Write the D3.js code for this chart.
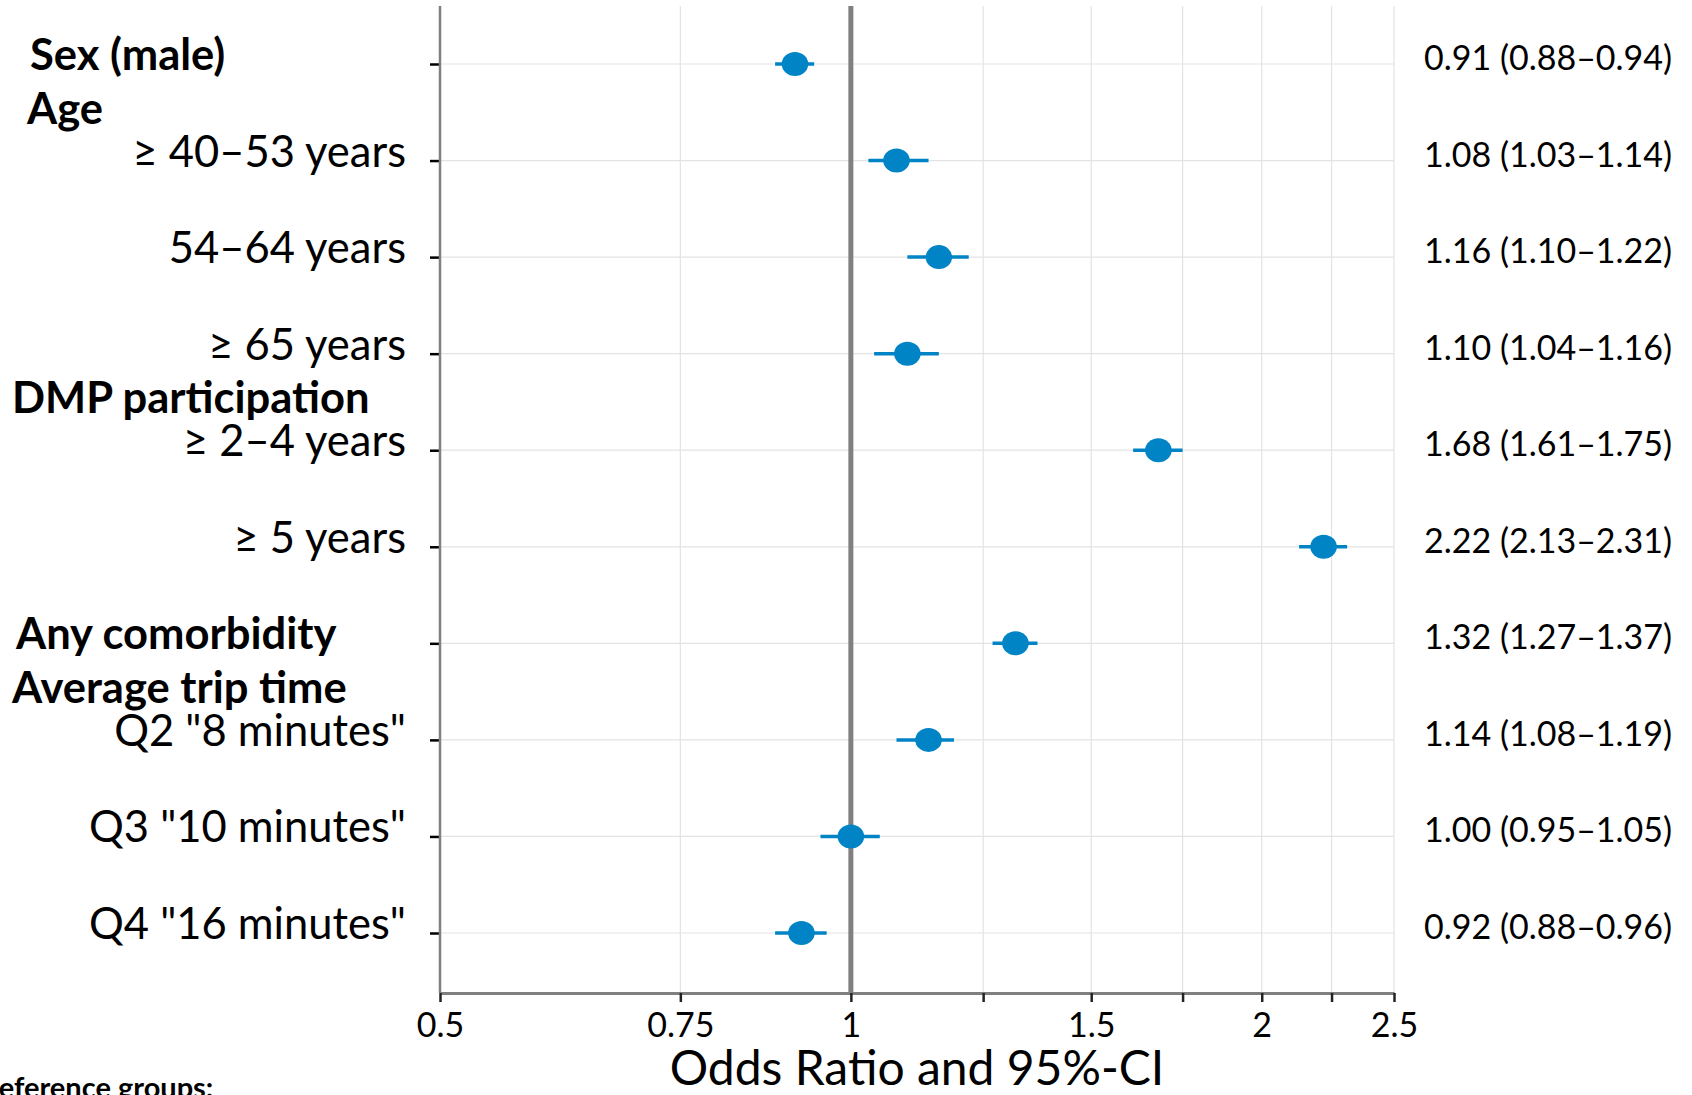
<!DOCTYPE html>
<html>
<head>
<meta charset="utf-8">
<script src="https://cdn.jsdelivr.net/npm/d3@7"></script>
<style>
  body { margin: 0; background: #fff; }
  text { font-family: Lato, "Open Sans", sans-serif; fill: #000; }
</style>
</head>
<body>
<div id="chart"></div>
<script>
// rows of the forest plot, top to bottom
const labels = ["Sex (male)", "\u2265 40\u201353 years", "54\u201364 years", "\u2265 65 years",
  "\u2265 2\u20134 years", "\u2265 5 years", "Any comorbidity",
  "Q2 \"8 minutes\"", "Q3 \"10 minutes\"", "Q4 \"16 minutes\""];
const boldRow = [true, false, false, false, false, false, true, false, false, false];
const groupHeaders = ["", "Age", "", "", "DMP participation", "", "", "Average trip time", "", ""];
const oddsRatio = [0.91, 1.08, 1.16, 1.10, 1.68, 2.22, 1.32, 1.14, 1.00, 0.92];
const ciLow = [0.88, 1.03, 1.10, 1.04, 1.61, 2.13, 1.27, 1.08, 0.95, 0.88];
const ciHigh = [0.94, 1.14, 1.22, 1.16, 1.75, 2.31, 1.37, 1.19, 1.05, 0.96];
const xTicks = [0.5, 0.75, 1, 1.25, 1.5, 1.75, 2, 2.25, 2.5];
const xTickLabels = ["0.5", "0.75", "1", "", "1.5", "", "2", "", "2.5"];

const W = 1692, H = 1095;
const plotLeft = 440, plotRight = 1394, plotTop = 6, plotBottom = 993;
const blue = "#0084c6";
const fmt = d3.format(".2f");

const rows = labels.map((d, i) => ({
  label: d, bold: boldRow[i], header: groupHeaders[i],
  or: oddsRatio[i], lo: ciLow[i], hi: ciHigh[i]
}));

const x = d3.scaleLog()
    .domain([0.5, 2.5])
    .range([plotLeft, plotRight]);

const y = d3.scalePoint()
    .domain(d3.range(rows.length))
    .range([64, 933]);

const svg = d3.select("#chart")
    .append("svg")
    .attr("width", W)
    .attr("height", H);

// grid
svg.append("g")
  .selectAll("line")
  .data(xTicks)
  .join("line")
    .attr("x1", d => x(d)).attr("x2", d => x(d))
    .attr("y1", plotTop).attr("y2", plotBottom)
    .attr("stroke", "#e3e3e3")
    .attr("stroke-width", 1.2);

svg.append("g")
  .selectAll("line")
  .data(rows)
  .join("line")
    .attr("x1", plotLeft).attr("x2", plotRight)
    .attr("y1", (d, i) => y(i)).attr("y2", (d, i) => y(i))
    .attr("stroke", "#e3e3e3")
    .attr("stroke-width", 1.2);

// left axis
const yAxis = svg.append("g")
    .attr("transform", `translate(${plotLeft},0)`)
    .call(d3.axisLeft(y).tickSize(10).tickSizeOuter(0).tickFormat(""));
yAxis.select(".domain").remove();
yAxis.selectAll(".tick line").attr("stroke", "#000").attr("stroke-width", 2.5);
svg.append("line")
    .attr("x1", plotLeft).attr("x2", plotLeft)
    .attr("y1", plotTop).attr("y2", plotBottom)
    .attr("stroke", "#808080")
    .attr("stroke-width", 2.5);

// bottom axis
const xAxis = svg.append("g")
    .attr("transform", `translate(0,${plotBottom})`)
    .call(d3.axisBottom(x)
      .tickValues(xTicks)
      .tickSize(9)
      .tickSizeOuter(0)
      .tickPadding(11)
      .tickFormat((d, i) => xTickLabels[i]));
xAxis.select(".domain").attr("stroke", "#808080").attr("stroke-width", 3);
xAxis.selectAll(".tick line").attr("stroke", "#222").attr("stroke-width", 2.5);
xAxis.selectAll(".tick text")
    .style("font-family", "Lato, sans-serif")
    .style("font-size", "34px")
    .attr("fill", "#000");

// reference line at OR = 1
svg.append("line")
    .attr("x1", x(1)).attr("x2", x(1))
    .attr("y1", plotTop).attr("y2", plotBottom)
    .attr("stroke", "#808080")
    .attr("stroke-width", 5);

// confidence intervals and points
svg.append("g")
  .selectAll("line")
  .data(rows)
  .join("line")
    .attr("x1", d => x(d.lo)).attr("x2", d => x(d.hi))
    .attr("y1", (d, i) => y(i)).attr("y2", (d, i) => y(i))
    .attr("stroke", blue)
    .attr("stroke-width", 3.5);

svg.append("g")
  .selectAll("ellipse")
  .data(rows)
  .join("ellipse")
    .attr("cx", d => x(d.or))
    .attr("cy", (d, i) => y(i))
    .attr("rx", 13.3)
    .attr("ry", 12)
    .attr("fill", blue);

// row labels
svg.append("g")
  .selectAll("text")
  .data(rows)
  .join("text")
    .attr("x", d => d.bold ? (d.label === "Sex (male)" ? 30 : 16) : 406)
    .attr("y", (d, i) => y(i) + 6)
    .attr("text-anchor", d => d.bold ? "start" : "end")
    .style("font-size", d => d.bold ? "43.5px" : "43.5px")
    .style("font-weight", d => d.bold ? "bold" : "normal")
    .text(d => d.label);

// group headers
svg.append("g")
  .selectAll("text")
  .data(rows.map((d, i) => ({h: d.header, i})).filter(d => d.h))
  .join("text")
    .attr("x", d => d.h === "Age" ? 27 : 12)
    .attr("y", d => y(d.i) - 37)
    .style("font-size", "43.5px")
    .style("font-weight", "bold")
    .text(d => d.h);

// OR (95% CI) text
svg.append("g")
  .selectAll("text")
  .data(rows)
  .join("text")
    .attr("x", 1424)
    .attr("y", (d, i) => y(i) + 6)
    .style("font-size", "34px")
    .text(d => `${fmt(d.or)} (${fmt(d.lo)}\u2013${fmt(d.hi)})`);

// axis title
svg.append("text")
    .attr("x", 917)
    .attr("y", 1085)
    .attr("text-anchor", "middle")
    .style("font-size", "48px")
    .text("Odds Ratio and 95%-CI");

svg.append("text")
    .attr("x", -19)
    .attr("y", 1098)
    .style("font-size", "29px")
    .style("font-weight", "bold")
    .text("Reference groups:");
</script>
</body>
</html>
